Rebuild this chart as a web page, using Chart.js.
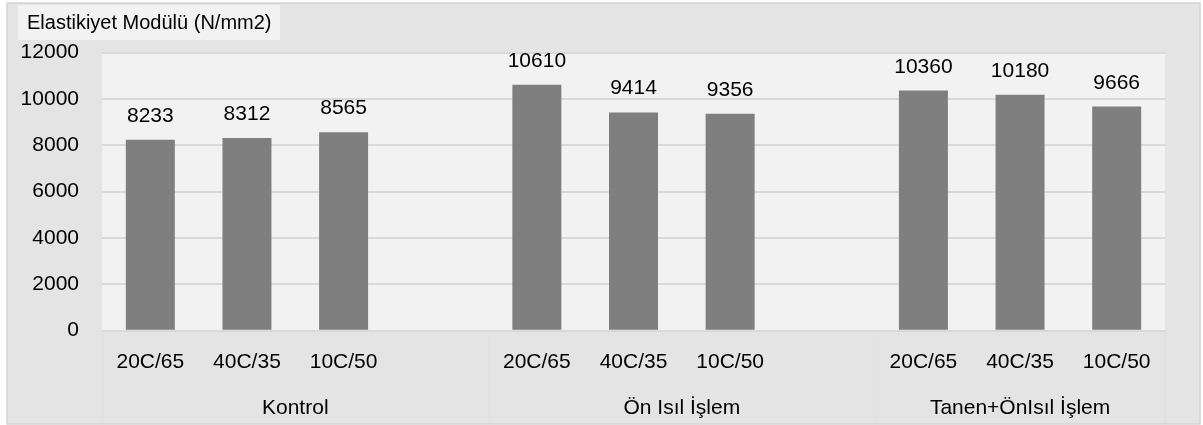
<!DOCTYPE html>
<html>
<head>
<meta charset="utf-8">
<script src="https://cdn.jsdelivr.net/npm/chart.js@4.4.1/dist/chart.umd.min.js"></script>
<style>
  html, body { margin: 0; padding: 0; background: #ffffff; }
  #wrap { width: 1203px; height: 425px; position: relative; }
</style>
</head>
<body>
<div id="wrap"><canvas id="c"></canvas></div>
<script>
// ---- data ----
const chartTitle = 'Elastikiyet Modülü (N/mm2)';
const categories = ['20C/65', '40C/35', '10C/50', '', '20C/65', '40C/35', '10C/50', '', '20C/65', '40C/35', '10C/50'];
const values = [8233, 8312, 8565, null, 10610, 9414, 9356, null, 10360, 10180, 9666];
const groupLabels = ['Kontrol', 'Ön Isıl İşlem', 'Tanen+ÖnIsıl İşlem'];
const groupSizes = [4, 4, 3];
const yTicks = [0, 2000, 4000, 6000, 8000, 10000, 12000];

// group centers in category-index units
const groupCenters = [];
let acc0 = 0;
groupSizes.forEach(s => { groupCenters.push(acc0 - 0.5 + s / 2); acc0 += s; });

const FONT = 'Liberation Sans';

const bgPlugin = {
  id: 'bgPlugin',
  beforeDraw(chart) {
    const ctx = chart.ctx;
    const ca = chart.chartArea;
    ctx.save();
    ctx.fillStyle = '#ffffff';
    ctx.fillRect(0, 0, chart.width, chart.height);
    ctx.fillStyle = '#e4e4e4';
    ctx.fillRect(7, 3, 1193, 421);
    ctx.strokeStyle = '#d4d4d4';
    ctx.lineWidth = 1.5;
    ctx.strokeRect(7, 3, 1193, 421);
    ctx.fillStyle = '#f2f2f2';
    ctx.fillRect(ca.left, ca.top, ca.right - ca.left, ca.bottom - ca.top);
    // title box
    ctx.fillStyle = '#f2f2f2';
    ctx.fillRect(18, 5, 262, 35);
    ctx.fillStyle = '#000000';
    ctx.font = '20px "' + FONT + '"';
    ctx.textBaseline = 'middle';
    ctx.textAlign = 'left';
    ctx.fillText(chartTitle, 27, 23);
    // group separators
    const x2 = chart.scales.x2;
    ctx.strokeStyle = '#dde1e6';
    ctx.lineWidth = 1;
    const seps = [-0.5];
    let a = 0;
    groupSizes.forEach(s => { a += s; seps.push(a - 0.5); });
    seps.forEach(v => {
      const px = Math.round(x2.getPixelForValue(v)) + 0.5;
      ctx.beginPath();
      ctx.moveTo(px, ca.bottom);
      ctx.lineTo(px, 423);
      ctx.stroke();
    });
    ctx.restore();
  }
};

const labelPlugin = {
  id: 'labelPlugin',
  afterDatasetsDraw(chart) {
    const ctx = chart.ctx;
    const meta = chart.getDatasetMeta(0);
    ctx.save();
    ctx.fillStyle = '#000000';
    ctx.font = '21px "' + FONT + '"';
    ctx.textAlign = 'center';
    ctx.textBaseline = 'alphabetic';
    meta.data.forEach((bar, i) => {
      const v = values[i];
      if (v === null || v === undefined) return;
      ctx.fillText(String(v), bar.x, bar.y - 18);
    });
    ctx.restore();
  }
};

new Chart(document.getElementById('c'), {
  type: 'bar',
  data: {
    labels: categories,
    datasets: [{
      data: values,
      backgroundColor: '#7f7f7f',
      borderWidth: 0,
      barPercentage: 0.507,
      categoryPercentage: 1.0
    }]
  },
  options: {
    responsive: true,
    maintainAspectRatio: false,
    animation: false,
    devicePixelRatio: 1,
    layout: { padding: { left: 0, right: 38, top: 52.5, bottom: 0 } },
    plugins: {
      legend: { display: false },
      tooltip: { enabled: false },
      title: { display: false }
    },
    scales: {
      y: {
        min: 0,
        max: 12000,
        afterBuildTicks(scale) { scale.ticks = yTicks.map(v => ({ value: v })); },
        afterFit(scale) { scale.width = 102; },
        ticks: {
          color: '#000000',
          font: { family: FONT, size: 21 },
          padding: 23,
          callback(value) { return String(value); }
        },
        grid: { color: '#d9d9d9', lineWidth: 2, drawTicks: false },
        border: { display: false }
      },
      x: {
        type: 'category',
        position: 'bottom',
        afterFit(scale) { scale.height = 46; },
        ticks: {
          color: '#000000',
          font: { family: FONT, size: 21 },
          padding: 19,
          autoSkip: false,
          maxRotation: 0
        },
        grid: { display: false, drawTicks: false },
        border: { display: false }
      },
      x2: {
        type: 'linear',
        position: 'bottom',
        min: -0.5,
        max: categories.length - 0.5,
        offset: false,
        afterBuildTicks(scale) { scale.ticks = groupCenters.map(v => ({ value: v })); },
        afterFit(scale) { scale.height = 48.3; },
        ticks: {
          color: '#000000',
          font: { family: FONT, size: 21 },
          padding: 19,
          autoSkip: false,
          maxRotation: 0,
          callback(value, index) { return groupLabels[index]; }
        },
        grid: { display: false, drawTicks: false },
        border: { display: false }
      }
    }
  },
  plugins: [bgPlugin, labelPlugin]
});
</script>
</body>
</html>
